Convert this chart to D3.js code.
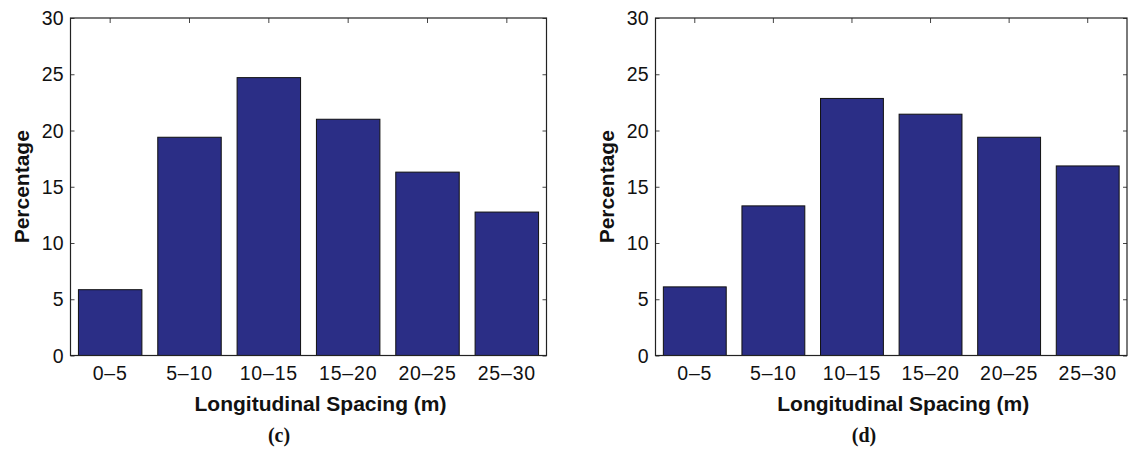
<!DOCTYPE html>
<html>
<head>
<meta charset="utf-8">
<script src="https://cdn.jsdelivr.net/npm/d3@7"></script>
<style>
  body { margin: 0; background: #fff; }
  svg { display: block; }
  text { font-family: "Liberation Sans", Arial, Helvetica, sans-serif; fill: #111; }
</style>
</head>
<body>
<div id="chart"></div>
<script>
// spacing bins and bar heights (percent)
const categories = ["0–5", "5–10", "10–15", "15–20", "20–25", "25–30"];
const valuesC = [5.85, 19.4, 24.7, 21.0, 16.3, 12.75];
const valuesD = [6.1, 13.3, 22.85, 21.45, 19.4, 16.85];
const yTicks = [0, 5, 10, 15, 20, 25, 30];
const xTitle = "Longitudinal Spacing (m)";
const yTitle = "Percentage";

const width = 1129, height = 451;
const barColor = "#2b2e86";

const svg = d3.select("#chart").append("svg")
    .attr("width", width)
    .attr("height", height);

const top_ = 18, bottom_ = 355.5;

function drawPanel(values, left, right, caption, captionX) {
    const g = svg.append("g");

    const x = d3.scaleBand()
        .domain(categories)
        .range([left, right])
        .paddingInner(0.2)
        .paddingOuter(0.1);

    const y = d3.scaleLinear()
        .domain([0, 30])
        .range([bottom_, top_]);

    // bars
    g.selectAll("rect.bar")
        .data(values)
        .enter()
        .append("rect")
        .attr("class", "bar")
        .attr("x", (d, i) => x(categories[i]))
        .attr("y", d => y(d))
        .attr("width", x.bandwidth())
        .attr("height", d => y(0) - y(d))
        .attr("fill", barColor)
        .attr("stroke", "#111")
        .attr("stroke-width", 1);

    // inward ticks on all sides, matlab style
    const yLeft = d3.axisRight(y).tickValues(yTicks).tickSize(4).tickFormat("");
    g.append("g")
        .attr("transform", "translate(" + left + ",0)")
        .call(yLeft)
        .call(a => a.select(".domain").remove());

    const yRight = d3.axisLeft(y).tickValues(yTicks).tickSize(4).tickFormat("");
    g.append("g")
        .attr("transform", "translate(" + right + ",0)")
        .call(yRight)
        .call(a => a.select(".domain").remove());

    const xTop = d3.axisBottom(x).tickSize(5).tickFormat("");
    g.append("g")
        .attr("transform", "translate(0," + top_ + ")")
        .call(xTop)
        .call(a => a.select(".domain").remove());

    g.selectAll(".tick line").attr("stroke", "#444");

    // box
    g.append("rect")
        .attr("x", left)
        .attr("y", top_)
        .attr("width", right - left)
        .attr("height", bottom_ - top_)
        .attr("fill", "none")
        .attr("stroke", "#222")
        .attr("stroke-width", 1.2);

    // y tick labels
    g.selectAll("text.ytick")
        .data(yTicks)
        .enter()
        .append("text")
        .attr("class", "ytick")
        .attr("x", left - 7)
        .attr("y", d => y(d))
        .attr("dy", "0.36em")
        .attr("text-anchor", "end")
        .style("font-size", "19.5px")
        .text(d => d);

    // x tick labels
    g.selectAll("text.xtick")
        .data(categories)
        .enter()
        .append("text")
        .attr("class", "xtick")
        .attr("x", d => x(d) + x.bandwidth() / 2)
        .attr("y", 380)
        .attr("text-anchor", "middle")
        .style("font-size", "19.5px")
        .style("letter-spacing", "0.8px")
        .text(d => d);

    // axis titles
    g.append("text")
        .attr("x", (left + right) / 2 + 12)
        .attr("y", 411)
        .attr("text-anchor", "middle")
        .style("font-size", "21px")
        .style("font-weight", "bold")
        .text(xTitle);

    g.append("text")
        .attr("transform", "translate(" + (left - 42) + "," + ((top_ + bottom_) / 2) + ") rotate(-90)")
        .attr("text-anchor", "middle")
        .style("font-size", "21px")
        .style("font-weight", "bold")
        .text(yTitle);

    g.append("text")
        .attr("x", captionX)
        .attr("y", 442)
        .attr("text-anchor", "middle")
        .style("font-family", "'Liberation Serif', 'Times New Roman', serif")
        .style("font-size", "20px")
        .style("font-weight", "bold")
        .text(caption);
}

drawPanel(valuesC, 70.5, 546.5, "(c)", 279);
drawPanel(valuesD, 655.5, 1127, "(d)", 864);
</script>
</body>
</html>
